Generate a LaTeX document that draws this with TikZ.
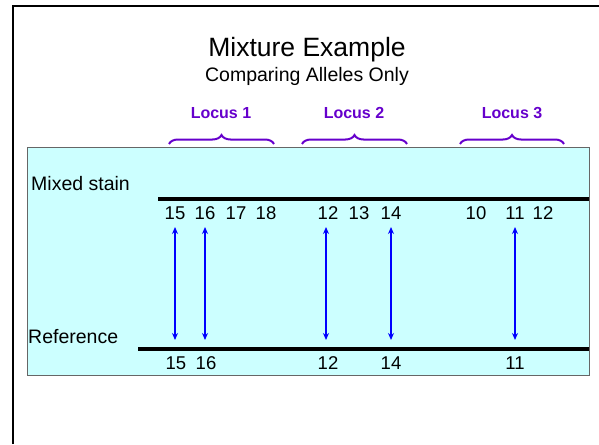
\documentclass[tikz,border=0pt]{standalone}
\usepackage{fontspec}
\setmainfont{Liberation Sans}
\usetikzlibrary{decorations.pathreplacing,arrows.meta}
\definecolor{boxcyan}{HTML}{CCFFFF}
\definecolor{locuspurple}{HTML}{6600CC}
\definecolor{arrowblue}{HTML}{0000FF}
\tikzset{
  num/.style={font=\fontsize{18.5}{19}\selectfont, inner sep=0pt, anchor=center},
  lbl/.style={font=\fontsize{19.5}{20}\selectfont, inner sep=0pt, anchor=west},
  locus/.style={font=\bfseries\fontsize{16}{16}\selectfont, text=locuspurple, inner sep=0pt},
  brace/.style={draw=locuspurple, line width=2pt, decorate, decoration={brace, amplitude=9pt}},
  allele/.style={draw=arrowblue, line width=2pt, {Stealth[length=7pt,width=6pt]}-{Stealth[length=7pt,width=6pt]}},
  bar/.style={line width=3.5pt}
}
\begin{document}
\begin{tikzpicture}[x=1pt,y=-1pt]
\useasboundingbox (0,0) rectangle (599,444);
% outer frame (partially visible)
\draw[line width=2.8pt] (13,444) -- (13,6) -- (599,6);
% titles
\node[font=\fontsize{26.5}{27}\selectfont, inner sep=0pt] (title) at (307,50) {Mixture Example};
\node[font=\fontsize{19.5}{20}\selectfont, inner sep=0pt] (sub) at (307,76) {Comparing Alleles Only};
% cyan box
\node[draw=gray!80!black, line width=0.8pt, fill=boxcyan, minimum width=562pt, minimum height=228pt, inner sep=0pt, anchor=north west] (box) at (27,147) {};
% locus labels and braces
\node[locus] (l1) at (221,113) {Locus 1};
\node[locus] (l2) at (354,113) {Locus 2};
\node[locus] (l3) at (512,113) {Locus 3};
\coordinate (b1a) at (169,144); \coordinate (b1b) at (274,144);
\coordinate (b2a) at (302,144); \coordinate (b2b) at (407,144);
\coordinate (b3a) at (460,144); \coordinate (b3b) at (564,144);
\draw[brace] (b1a) -- (b1b);
\draw[brace] (b2a) -- (b2b);
\draw[brace] (b3a) -- (b3b);
% row labels
\node[lbl] (mixed) at (31,184) {Mixed stain};
\node[lbl] (ref) at (28,337) {Reference};
% bars
\coordinate (m1) at (158,199); \coordinate (m2) at (589,199);
\coordinate (r1) at (138,349); \coordinate (r2) at (589,349);
\draw[bar] (m1) -- (m2);
\draw[bar] (r1) -- (r2);
% mixed stain alleles
\node[num] (a15) at (175,213) {15};
\node[num] (a16) at (205,213) {16};
\node[num] (a17) at (236,213) {17};
\node[num] (a18) at (266,213) {18};
\node[num] (b12) at (328,213) {12};
\node[num] (b13) at (359,213) {13};
\node[num] (b14) at (391,213) {14};
\node[num] (c10) at (476,213) {10};
\node[num] (c11) at (515,213) {11};
\node[num] (c12) at (543,213) {12};
% reference alleles
\node[num] (ra15) at (176,363) {15};
\node[num] (ra16) at (206,363) {16};
\node[num] (rb12) at (328,363) {12};
\node[num] (rb14) at (391,363) {14};
\node[num] (rc11) at (515,363) {11};
% arrows
\coordinate (t1) at (175,227); \coordinate (u1) at (175,340);
\coordinate (t2) at (205,227); \coordinate (u2) at (205,340);
\coordinate (t3) at (326,227); \coordinate (u3) at (326,340);
\coordinate (t4) at (391,227); \coordinate (u4) at (391,340);
\coordinate (t5) at (515,227); \coordinate (u5) at (515,340);
\draw[allele] (t1) -- (u1);
\draw[allele] (t2) -- (u2);
\draw[allele] (t3) -- (u3);
\draw[allele] (t4) -- (u4);
\draw[allele] (t5) -- (u5);
\end{tikzpicture}
\end{document}
